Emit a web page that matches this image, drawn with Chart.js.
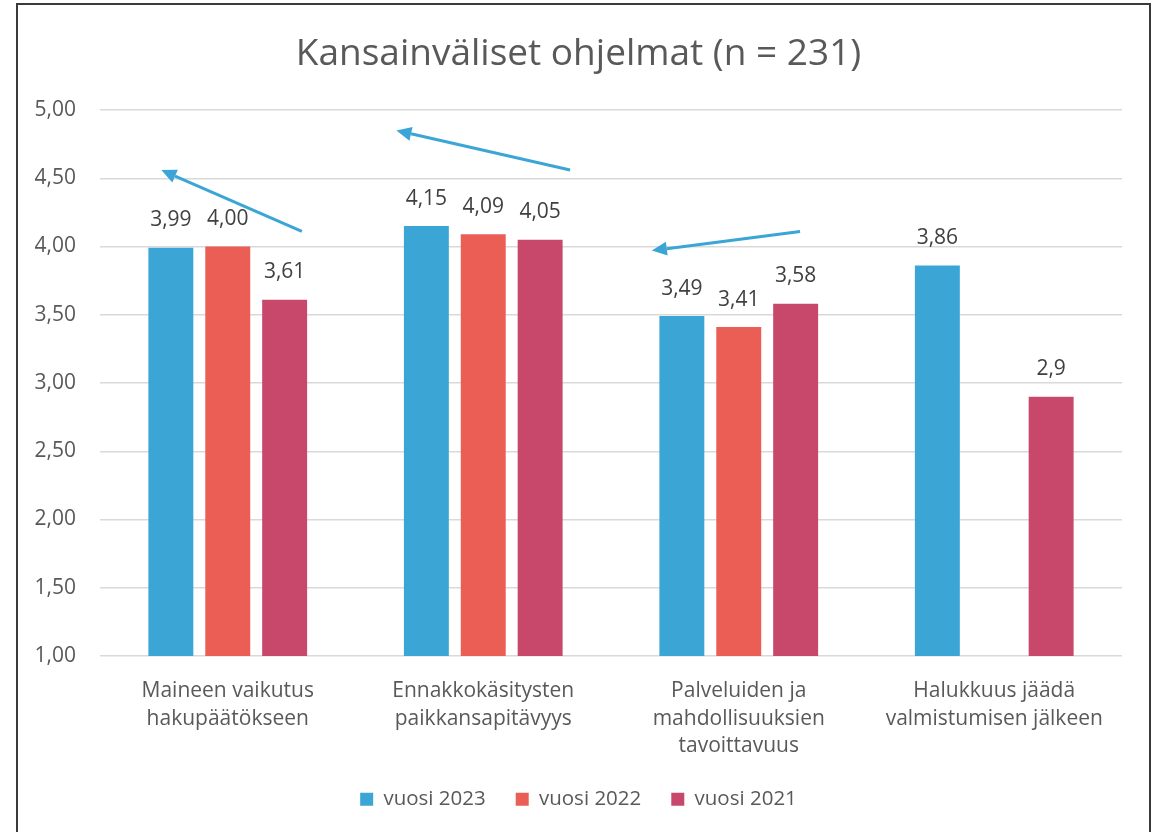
<!DOCTYPE html>
<html lang="fi">
<head>
    <meta charset="UTF-8">
    <title>Kansainväliset ohjelmat</title>
    <script src="https://cdn.jsdelivr.net/npm/chart.js"></script>
    <style>
        body { margin: 0; background: #fff; }
        #kehys {
            position: absolute; left: 16px; top: 3px; width: 1131px; height: 900px;
            border: 2px solid #3a3a3a; border-bottom: none;
        }
        #grafiikka { position: absolute; left: 0; top: 0; }
    </style>
</head>
<body>
    <div id="kehys"></div>
    <canvas id="grafiikka" width="1157" height="832"></canvas>

    <script>
        // kategoriat (rivitetty kuten alkuperäisessä)
        const kategoriat = [
            ['Maineen vaikutus', 'hakupäätökseen'],
            ['Ennakkokäsitysten', 'paikkansapitävyys'],
            ['Palveluiden ja', 'mahdollisuuksien', 'tavoittavuus'],
            ['Halukkuus jäädä', 'valmistumisen jälkeen']
        ];

        const vuosi2023 = [3.99, 4.15, 3.49, 3.86];
        const vuosi2022 = [4.00, 4.09, 3.41, null];
        const vuosi2021 = [3.61, 4.05, 3.58, 2.9];

        // desimaalit arvojen otsikoissa
        const desimaalit2023 = [2, 2, 2, 2];
        const desimaalit2022 = [2, 2, 2, 2];
        const desimaalit2021 = [2, 2, 2, 1];

        // nuolet: [x alku, y alku, x loppu, y loppu] (kategoria-indeksi, arvo)
        const nuolet = [
            [0.29, 4.11, -0.26, 4.56],
            [1.34, 4.56, 0.66, 4.85],
            [2.24, 4.11, 1.66, 3.97]
        ];

        const fontti = "'Open Sans', sans-serif";

        function muotoile(arvo, des) {
            return arvo.toFixed(des).replace('.', ',');
        }

        // piirtää arvot palkkien yläpuolelle
        const arvoOtsikot = {
            id: 'arvoOtsikot',
            afterDatasetsDraw(chart) {
                const ctx = chart.ctx;
                ctx.save();
                ctx.font = '21px ' + fontti;
                ctx.fillStyle = '#404040';
                ctx.textAlign = 'center';
                ctx.textBaseline = 'bottom';
                chart.data.datasets.forEach((ds, i) => {
                    const meta = chart.getDatasetMeta(i);
                    meta.data.forEach((bar, j) => {
                        const v = ds.data[j];
                        if (v === null) return;
                        ctx.fillText(muotoile(v, ds.desimaalit[j]), bar.x, bar.y - 17);
                    });
                });
                ctx.restore();
            }
        };

        // sininen nuoli-annotaatio
        const nuoliPiirto = {
            id: 'nuoliPiirto',
            afterDraw(chart) {
                const ctx = chart.ctx;
                const xs = chart.scales.x, ys = chart.scales.y;
                ctx.save();
                ctx.strokeStyle = '#3ba6d6';
                ctx.fillStyle = '#3ba6d6';
                ctx.lineWidth = 3;
                nuolet.forEach(n => {
                    const x1 = xs.getPixelForValue(n[0]), y1 = ys.getPixelForValue(n[1]);
                    const x2 = xs.getPixelForValue(n[2]), y2 = ys.getPixelForValue(n[3]);
                    const kulma = Math.atan2(y2 - y1, x2 - x1);
                    const pituus = 15, leveys = 7;
                    const bx = x2 - pituus * Math.cos(kulma), by = y2 - pituus * Math.sin(kulma);
                    ctx.beginPath();
                    ctx.moveTo(x1, y1);
                    ctx.lineTo(bx, by);
                    ctx.stroke();
                    ctx.beginPath();
                    ctx.moveTo(x2, y2);
                    ctx.lineTo(bx + leveys * Math.sin(kulma), by - leveys * Math.cos(kulma));
                    ctx.lineTo(bx - leveys * Math.sin(kulma), by + leveys * Math.cos(kulma));
                    ctx.closePath();
                    ctx.fill();
                });
                ctx.restore();
            }
        };

        const dados = {
            labels: kategoriat,
            datasets: [
                { label: 'vuosi 2023', data: vuosi2023, desimaalit: desimaalit2023, backgroundColor: '#3ba6d6' },
                { label: 'vuosi 2022', data: vuosi2022, desimaalit: desimaalit2022, backgroundColor: '#ea5e55' },
                { label: 'vuosi 2021', data: vuosi2021, desimaalit: desimaalit2021, backgroundColor: '#c8486b' }
            ]
        };

        const config = {
            type: 'bar',
            data: dados,
            options: {
                responsive: false,
                animation: false,
                categoryPercentage: 0.668,
                barPercentage: 0.79,
                layout: { padding: { left: 35, right: 35, top: 0, bottom: 12.5 } },
                scales: {
                    x: {
                        afterFit(scale) { scale.height = 103; },
                        grid: { display: false },
                        border: { display: false },
                        ticks: {
                            color: '#595959',
                            font: { family: fontti, size: 21, lineHeight: 1.32 },
                            padding: 13,
                            maxRotation: 0,
                            autoSkip: false
                        }
                    },
                    y: {
                        min: 1,
                        max: 5,
                        afterFit(scale) { scale.width = 65; },
                        border: { display: false },
                        grid: { color: '#d9d9d9', lineWidth: 1.5, drawTicks: false },
                        ticks: {
                            stepSize: 0.5,
                            color: '#595959',
                            padding: 24,
                            font: { family: fontti, size: 21 },
                            callback: v => muotoile(v, 2)
                        }
                    }
                },
                plugins: {
                    title: {
                        display: true,
                        text: 'Kansainväliset ohjelmat (n = 231)',
                        color: '#595959',
                        font: { family: fontti, size: 37, weight: 'normal' },
                        padding: { top: 32, bottom: 33.6 }
                    },
                    legend: {
                        position: 'bottom',
                        labels: {
                            color: '#595959',
                            font: { family: fontti, size: 20.5 },
                            boxWidth: 13,
                            boxHeight: 13,
                            padding: 30
                        }
                    },
                    tooltip: { enabled: false }
                }
            },
            plugins: [arvoOtsikot, nuoliPiirto]
        };

        new Chart(document.getElementById('grafiikka').getContext('2d'), config);
    </script>
</body>
</html>
